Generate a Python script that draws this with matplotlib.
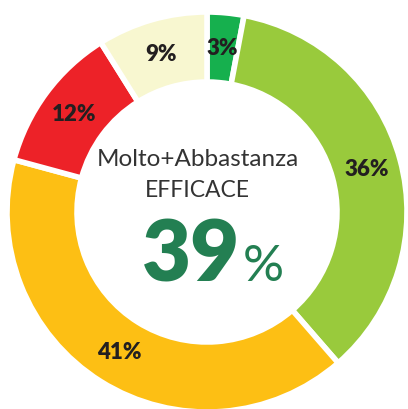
import matplotlib.pyplot as plt

categories = ['Molto efficace', 'Abbastanza efficace', 'Poco efficace', 'Per niente efficace', 'Non so']
values = [3, 36, 41, 12, 9]
pct_labels = ['3%', '36%', '41%', '12%', '9%']
colors = ['#16B04E', '#99CA3C', '#FDBF14', '#ED2228', '#F8F7D0']
total_label = '39'

fig = plt.figure(figsize=(4.08, 4.10), dpi=100)
ax = fig.add_axes([0, 0, 1, 1])

it = iter(pct_labels)
wedges, texts, autotexts = ax.pie(
    values, colors=colors, startangle=90, counterclock=False,
    center=(207, 197), radius=200, frame=True,
    autopct=lambda p: next(it), pctdistance=0.825,
    wedgeprops=dict(width=70, edgecolor='white', linewidth=4),
    textprops=dict(fontfamily='Lato', fontweight='heavy', fontsize=16, color='#231F20'))

ax.text(198, 250, 'Molto+Abbastanza', ha='center', va='center',
        fontfamily='Lato', fontsize=17.5, color='#333333')
ax.text(197, 219, 'EFFICACE', ha='center', va='center',
        fontfamily='Lato', fontsize=16.5, color='#333333')
ax.text(240, 129, total_label, ha='right', va='baseline',
        fontfamily='Lato', fontweight='heavy', fontsize=61, color='#237F52')
ax.text(243, 129, '%', ha='left', va='baseline',
        fontfamily='Lato', fontsize=37, color='#237F52')

ax.set_xlim(0, 408)
ax.set_ylim(0, 410)
ax.set_aspect('equal')
ax.axis('off')

fig.savefig('out.png', dpi=100)
